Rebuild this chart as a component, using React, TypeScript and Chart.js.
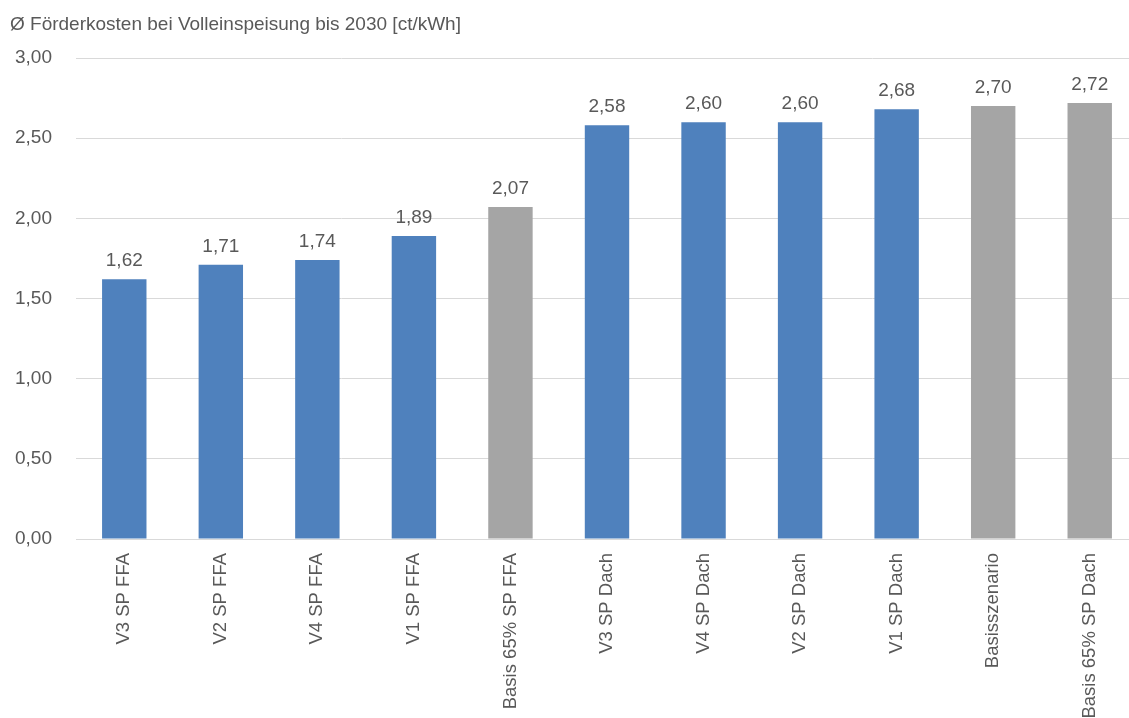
import React, { useEffect, useRef } from "react";
import { Chart, registerables } from "chart.js";

Chart.register(...registerables);

const categories = [
  "V3 SP FFA",
  "V2 SP FFA",
  "V4 SP FFA",
  "V1 SP FFA",
  "Basis 65% SP FFA",
  "V3 SP Dach",
  "V4 SP Dach",
  "V2 SP Dach",
  "V1 SP Dach",
  "Basisszenario",
  "Basis 65% SP Dach",
];
const values = [1.62, 1.71, 1.74, 1.89, 2.07, 2.58, 2.6, 2.6, 2.68, 2.7, 2.72];
const isBaseline = [false, false, false, false, true, false, false, false, false, true, true];
const titleText = "Ø Förderkosten bei Volleinspeisung bis 2030 [ct/kWh]";

const BLUE = "#4F81BD";
const GREY = "#A5A5A5";
const TEXT = "#595959";
const GRID = "#D9D9D9";
const FONT = "'Liberation Sans', Arial, sans-serif";

const fmt = (v: number) => v.toFixed(2).replace(".", ",");

const CANVAS_W = 1138;
const CANVAS_H = 718;

const labelPlugin = {
  id: "valueLabels",
  afterDatasetsDraw(chart: any) {
    const ctx = chart.ctx;
    const meta = chart.getDatasetMeta(0);
    ctx.save();
    ctx.font = `19px ${FONT}`;
    ctx.fillStyle = TEXT;
    ctx.textAlign = "center";
    ctx.textBaseline = "alphabetic";
    meta.data.forEach((bar: any, i: number) => {
      ctx.fillText(fmt(values[i]), bar.x, bar.y - 13);
    });
    ctx.restore();
  },
};

const titlePlugin = {
  id: "topTitle",
  afterDraw(chart: any) {
    const ctx = chart.ctx;
    ctx.save();
    ctx.font = `19px ${FONT}`;
    ctx.fillStyle = TEXT;
    ctx.textAlign = "left";
    ctx.textBaseline = "alphabetic";
    ctx.fillText(titleText, 10, 30);
    ctx.restore();
  },
};

export default function App() {
  const ref = useRef<HTMLCanvasElement | null>(null);

  useEffect(() => {
    if (!ref.current) return;
    const chart = new Chart(ref.current, {
      type: "bar",
      data: {
        labels: categories,
        datasets: [
          {
            data: values,
            backgroundColor: isBaseline.map((b) => (b ? GREY : BLUE)),
            borderWidth: 0,
            barPercentage: 0.46,
            categoryPercentage: 1,
          },
        ],
      },
      options: {
        animation: false,
        responsive: false,
        maintainAspectRatio: false,
        layout: { padding: { top: 58, left: 0, right: 0, bottom: 0 } },
        plugins: {
          legend: { display: false },
          title: { display: false },
          tooltip: { enabled: false },
        },
        scales: {
          x: {
            grid: { display: false, drawTicks: false },
            border: { display: true, color: GRID, width: 1 },
            ticks: {
              color: TEXT,
              font: { family: FONT, size: 18.5 },
              minRotation: 90,
              maxRotation: 90,
              autoSkip: false,
              padding: 14,
            },
            afterFit: (scale: any) => {
              scale.height = CANVAS_H - 539;
            },
          },
          y: {
            min: 0,
            max: 3,
            grid: { color: GRID, drawTicks: false, lineWidth: 1 },
            border: { display: false },
            ticks: {
              stepSize: 0.5,
              color: TEXT,
              font: { family: FONT, size: 19 },
              padding: 24,
              callback: (v: any) => fmt(Number(v)),
            },
            afterFit: (scale: any) => {
              scale.width = 76;
            },
          },
        },
      },
      plugins: [labelPlugin, titlePlugin],
    });
    return () => chart.destroy();
  }, []);

  return (
    <div
      style={{
        position: "fixed",
        left: 0,
        top: 0,
        width: 1129,
        height: 718,
        overflow: "hidden",
        background: "#fff",
      }}
    >
      <canvas ref={ref} width={CANVAS_W} height={CANVAS_H} style={{ display: "block" }} />
    </div>
  );
}
